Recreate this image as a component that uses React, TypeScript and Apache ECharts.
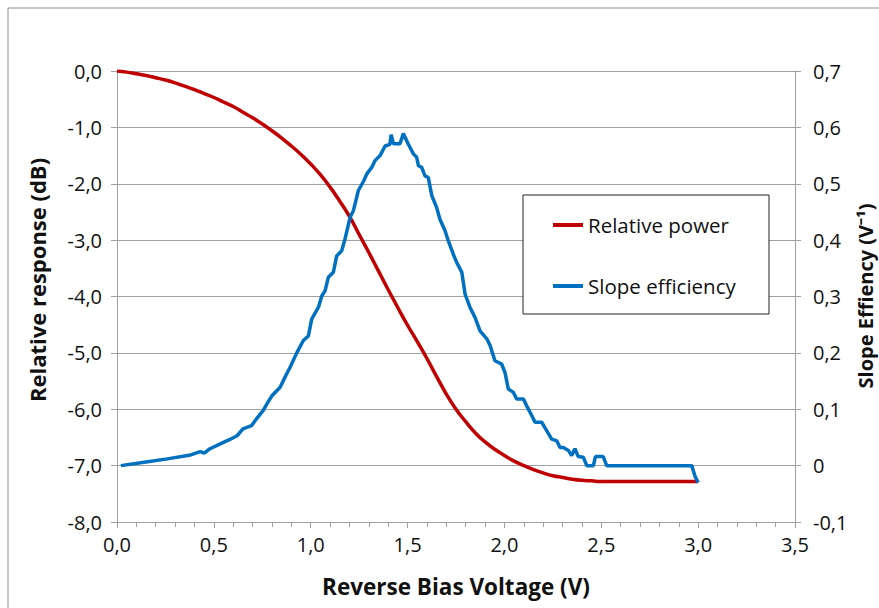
import React, { useEffect, useRef } from "react";
import * as echarts from "echarts";

// Relative power (dB) vs reverse bias voltage (V)
const powerVoltage = [0, 0.05, 0.1, 0.15, 0.2, 0.25, 0.3, 0.35, 0.4, 0.45, 0.5, 0.55, 0.6, 0.65, 0.7, 0.75, 0.8, 0.85, 0.9, 0.95, 1.0, 1.05, 1.1, 1.15, 1.2, 1.25, 1.3, 1.35, 1.4, 1.45, 1.5, 1.55, 1.6, 1.65, 1.7, 1.75, 1.8, 1.85, 1.9, 1.95, 2.0, 2.05, 2.1, 2.15, 2.2, 2.25, 2.3, 2.35, 2.4, 2.45, 2.5, 2.75, 3.0];
const powerDb = [0, -0.02, -0.05, -0.08, -0.12, -0.16, -0.21, -0.27, -0.33, -0.4, -0.47, -0.55, -0.63, -0.73, -0.83, -0.94, -1.06, -1.19, -1.33, -1.48, -1.65, -1.84, -2.06, -2.31, -2.58, -2.9, -3.22, -3.55, -3.88, -4.2, -4.51, -4.8, -5.1, -5.42, -5.73, -6.0, -6.22, -6.42, -6.58, -6.71, -6.82, -6.92, -7.0, -7.07, -7.13, -7.18, -7.21, -7.24, -7.26, -7.27, -7.28, -7.28, -7.28];

// Slope efficiency (1/V) vs reverse bias voltage (V)
const slopeVoltage = [0.02, 0.14, 0.26, 0.38, 0.43, 0.45, 0.48, 0.53, 0.58, 0.62, 0.65, 0.695, 0.72, 0.755, 0.78, 0.8, 0.842, 0.876, 0.893, 0.928, 0.962, 0.988, 1.005, 1.04, 1.057, 1.074, 1.091, 1.117, 1.134, 1.16, 1.177, 1.203, 1.22, 1.246, 1.272, 1.289, 1.315, 1.332, 1.358, 1.384, 1.409, 1.415, 1.427, 1.461, 1.478, 1.504, 1.53, 1.547, 1.556, 1.573, 1.59, 1.607, 1.625, 1.65, 1.667, 1.693, 1.71, 1.736, 1.754, 1.78, 1.797, 1.822, 1.848, 1.874, 1.909, 1.926, 1.951, 1.986, 2.003, 2.02, 2.046, 2.063, 2.098, 2.115, 2.141, 2.158, 2.192, 2.218, 2.244, 2.27, 2.287, 2.304, 2.33, 2.347, 2.364, 2.381, 2.407, 2.425, 2.459, 2.47, 2.51, 2.528, 2.967, 2.985, 3.0];
const slopeEff = [0.0, 0.006, 0.012, 0.019, 0.025, 0.022, 0.03, 0.038, 0.046, 0.053, 0.065, 0.071, 0.083, 0.098, 0.113, 0.124, 0.139, 0.163, 0.174, 0.2, 0.222, 0.23, 0.26, 0.281, 0.301, 0.31, 0.334, 0.343, 0.372, 0.381, 0.402, 0.44, 0.452, 0.488, 0.504, 0.517, 0.529, 0.541, 0.55, 0.567, 0.57, 0.587, 0.571, 0.571, 0.589, 0.57, 0.553, 0.547, 0.532, 0.529, 0.514, 0.511, 0.479, 0.458, 0.437, 0.417, 0.399, 0.375, 0.36, 0.343, 0.304, 0.281, 0.263, 0.239, 0.225, 0.213, 0.186, 0.18, 0.165, 0.136, 0.13, 0.118, 0.118, 0.106, 0.089, 0.077, 0.077, 0.062, 0.047, 0.044, 0.032, 0.032, 0.027, 0.018, 0.03, 0.016, 0.015, 0.0, 0.0, 0.016, 0.016, 0.0, 0.0, -0.02, -0.03];

const seriesNames = ["Relative power", "Slope efficiency"];
const xTitle = "Reverse Bias Voltage (V)";
const yLeftTitle = "Relative response (dB)";
const yRightTitle = "Slope Effiency (V\u207B\u00B9)";

const FONT = "'Open Sans', 'Liberation Sans', sans-serif";
const GRID_COLOR = "#a0a0a0";

const fmt1 = (v: number) => {
  if (Math.abs(v) < 1e-9) return "0,0";
  return v.toFixed(1).replace(".", ",");
};
const fmtRight = (v: number) => {
  if (Math.abs(v) < 1e-9) return "0";
  return v.toFixed(1).replace(".", ",");
};

export default function App() {
  const ref = useRef<HTMLDivElement>(null);
  useEffect(() => {
    document.body.style.margin = "0";
    if (!ref.current) return;
    const chart = echarts.init(ref.current, undefined, { renderer: "svg" });
    const redData = powerVoltage.map((v, i) => [v, powerDb[i]]);
    const blueData = slopeVoltage.map((v, i) => [v, slopeEff[i]]);
    const axisLabelStyle = { color: "#111", fontFamily: FONT, fontSize: 20 };
    chart.setOption({
      animation: false,
      backgroundColor: "#fff",
      grid: { left: 117, right: 84, top: 71, bottom: 86, containLabel: false },
      legend: {
        data: seriesNames,
        orient: "vertical",
        left: 553,
        top: 213,
        padding: 0,
        itemGap: 37,
        itemWidth: 30,
        itemHeight: 4,
        icon: "rect",
        textStyle: { fontFamily: FONT, fontSize: 20.5, color: "#111", lineHeight: 24 },
      },
      xAxis: {
        type: "value",
        min: 0,
        max: 3.5,
        interval: 0.5,
        axisLine: { show: true, onZero: false, lineStyle: { color: GRID_COLOR, width: 1 } },
        axisTick: { show: true, inside: false, length: 6, lineStyle: { color: GRID_COLOR } },
        minorTick: { show: true, splitNumber: 5, length: 5, lineStyle: { color: GRID_COLOR } },
        splitLine: { show: false },
        axisLabel: { ...axisLabelStyle, margin: 12, formatter: fmt1 },
      },
      yAxis: [
        {
          type: "value",
          min: -8,
          max: 0,
          interval: 1,
          position: "left",
          axisLine: { show: true, onZero: false, lineStyle: { color: GRID_COLOR, width: 1 } },
          axisTick: { show: true, inside: false, length: 6, lineStyle: { color: GRID_COLOR } },
          splitLine: { show: true, lineStyle: { color: GRID_COLOR, width: 1 } },
          axisLabel: { ...axisLabelStyle, margin: 15, formatter: fmt1 },
        },
        {
          type: "value",
          min: -0.1,
          max: 0.7,
          interval: 0.1,
          position: "right",
          axisLine: { show: true, onZero: false, lineStyle: { color: GRID_COLOR, width: 1 } },
          axisTick: { show: true, inside: false, length: 6, lineStyle: { color: GRID_COLOR } },
          splitLine: { show: false },
          axisLabel: { ...axisLabelStyle, margin: 18, formatter: fmtRight },
        },
      ],
      series: [
        {
          name: seriesNames[0],
          type: "line",
          yAxisIndex: 0,
          data: redData,
          showSymbol: false,
          symbol: "none",
          smooth: 0.5,
          lineStyle: { color: "#c00000", width: 3.5 },
          itemStyle: { color: "#c00000" },
          z: 2,
        },
        {
          name: seriesNames[1],
          type: "line",
          yAxisIndex: 1,
          data: blueData,
          showSymbol: false,
          symbol: "none",
          lineStyle: { color: "#0070c0", width: 3.5 },
          itemStyle: { color: "#0070c0" },
          z: 3,
        },
      ],
      graphic: [
        {
          type: "rect",
          z: -1,
          shape: { x: 8, y: 8, width: 1200, height: 1200 },
          style: { fill: "none", stroke: "#8c8c8c", lineWidth: 1 },
          silent: true,
        },
        {
          type: "rect",
          z: 3,
          shape: { x: 523, y: 195, width: 246, height: 119 },
          style: { fill: "#fff", stroke: "#222", lineWidth: 1 },
          silent: true,
        },
        {
          type: "text",
          x: 456,
          y: 586,
          style: {
            text: xTitle,
            font: `bold 22.5px ${FONT}`,
            fill: "#111",
            textAlign: "center",
            textVerticalAlign: "middle",
          },
        },
        {
          type: "text",
          x: 37,
          y: 280,
          rotation: Math.PI / 2,
          style: {
            text: yLeftTitle,
            font: `bold 22px ${FONT}`,
            fill: "#111",
            textAlign: "center",
            textVerticalAlign: "middle",
          },
        },
        {
          type: "text",
          x: 865,
          y: 296,
          rotation: Math.PI / 2,
          style: {
            text: yRightTitle,
            font: `bold 20px ${FONT}`,
            fill: "#111",
            textAlign: "center",
            textVerticalAlign: "middle",
          },
        },
      ],
    });
    return () => chart.dispose();
  }, []);
  return <div ref={ref} style={{ width: 879, height: 608 }} />;
}
